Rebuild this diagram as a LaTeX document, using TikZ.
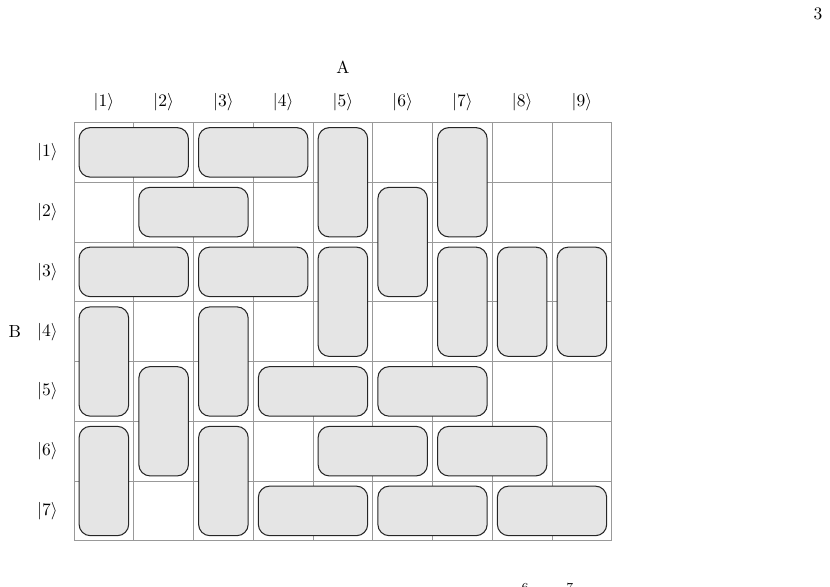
\documentclass[tikz,border=0pt]{standalone}
\begin{document}
\begin{tikzpicture}[x=1.2cm, y=1.2cm,
	domino/.style={draw=black!85, line width=0.6pt, fill=black!10, rounded corners=6.5pt},
	gitter/.style={black!40, line width=0.4pt}]
	\useasboundingbox (-1.2385,2.05) rectangle (12.652,-7.758);
	
	%Gitter
	\foreach \c in {0,...,9} \draw[gitter] (\c,0) -- (\c,-7);
	\foreach \r in {0,...,7} \draw[gitter] (0,-\r) -- (9,-\r);
	
	%Dominos waagrecht (Spalte/Zeile)
	\foreach \c/\r in {1/1,3/1,2/2,1/3,3/3,4/5,6/5,5/6,7/6,4/7,6/7,8/7}
		\draw[domino] (\c-1+0.085,-\r+1-0.085) rectangle (\c+1-0.085,-\r+0.085);
	%Dominos senkrecht
	\foreach \c/\r in {5/1,7/1,6/2,5/3,7/3,8/3,9/3,1/4,3/4,2/5,1/6,3/6}
		\draw[domino] (\c-1+0.085,-\r+1-0.085) rectangle (\c-0.085,-\r-1+0.085);
	
	%Beschriftung
	\node (A) at (4.5,0.93) {A};
	\foreach \c in {1,...,9} \node (a\c) at (\c-0.5,0.343) {$|\c\rangle$};
	\node (B) at (-0.99,-3.5) {B};
	\foreach \r in {1,...,7} \node (b\r) at (-0.445,-\r+0.5) {$|\r\rangle$};
	
	\node (seite) at (12.45,1.816) {3};%Seitenzahl
	\node[anchor=north, inner sep=0pt, font=\scriptsize] (hochs) at (7.55,-7.70) {6};
	\node[anchor=north, inner sep=0pt, font=\scriptsize] (hocht) at (8.30,-7.70) {7};
\end{tikzpicture}
\end{document}
